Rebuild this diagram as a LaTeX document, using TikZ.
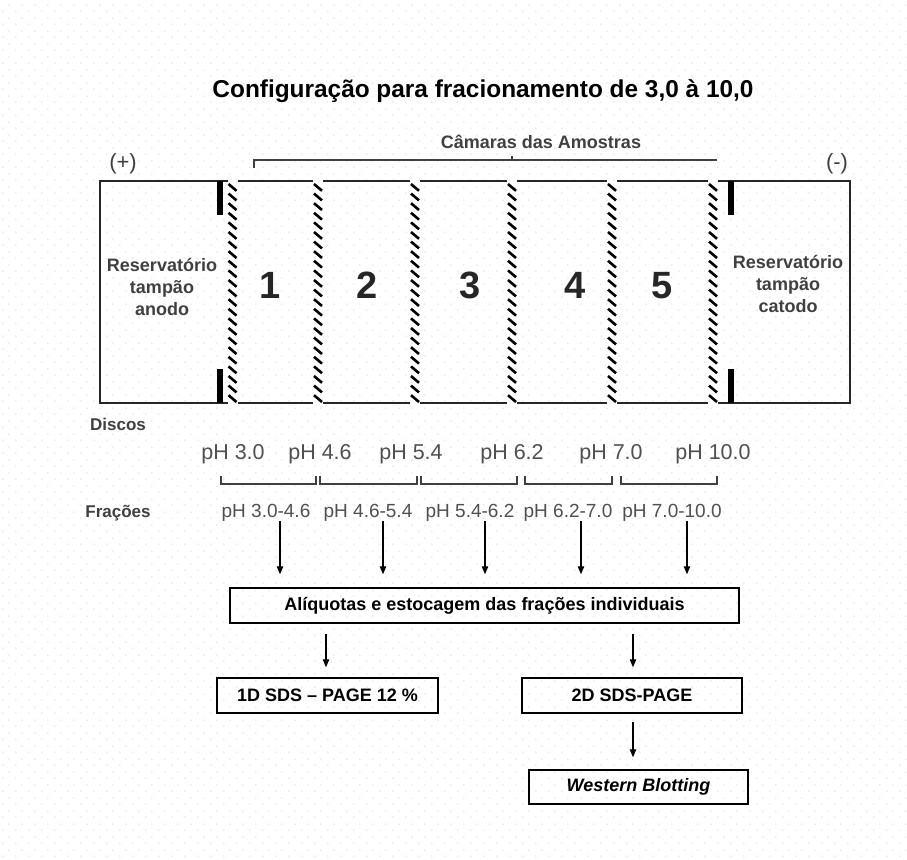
\documentclass[tikz,border=0pt]{standalone}
\usepackage{fontspec}
\setmainfont{Liberation Sans}
\usetikzlibrary{arrows.meta,patterns}

\pgfdeclarepatternformonly{bgdots}{\pgfpointorigin}{\pgfpoint{12.5pt}{12.5pt}}{\pgfpoint{12.5pt}{12.5pt}}{%
  \pgfpathcircle{\pgfpoint{3pt}{3pt}}{0.65pt}%
  \pgfpathcircle{\pgfpoint{9.25pt}{9.25pt}}{0.65pt}%
  \pgfusepath{fill}}

\definecolor{ink}{HTML}{262626}
\definecolor{soft}{HTML}{404040}
\definecolor{phgray}{HTML}{505050}
\newcommand{\setfsz}[1]{\fontsize{#1}{#1}\selectfont}

\tikzset{
  titletext/.style={font=\bfseries\setfsz{24.4}, text=black, inner sep=0pt},
  restext/.style={font=\bfseries\fontsize{18}{22}\selectfont, text=soft, align=center, inner sep=0pt},
  numtext/.style={font=\bfseries\setfsz{38}, text=ink, inner sep=0pt},
  camtext/.style={font=\bfseries\setfsz{18}, text=soft, inner sep=0pt},
  signtext/.style={font=\setfsz{22}, text=soft, inner sep=0pt},
  sidetext/.style={font=\bfseries\setfsz{17}, text=soft, inner sep=0pt},
  phtext/.style={font=\setfsz{21.5}, text=phgray, inner sep=0pt},
  fractext/.style={font=\setfsz{19}, text=phgray, inner sep=0pt},
  boxline/.style={draw=ink, line width=1.4pt},
  hatch/.style={draw=black, line width=2.6pt},
  thickbar/.style={fill=black},
  bracketline/.style={draw=soft, line width=1.3pt},
  flowbox/.style={draw=black, line width=1.5pt, font=\bfseries\setfsz{18}, text=black, inner sep=0pt, minimum height=35pt},
  flowarrow/.style={draw=black, line width=1.1pt, -{Triangle[width=6.5pt,length=8pt]}}
}

\begin{document}
\begin{tikzpicture}[x=1pt,y=-1pt]
\useasboundingbox (0,0) rectangle (907,859);
\fill[white] (0,0) rectangle (907,859);
\fill[pattern=bgdots, pattern color=black!22] (0,0) rectangle (907,859);

% title
\node[titletext, anchor=base] (title) at (483,97) {Configuração para fracionamento de 3,0 à 10,0};

% polarity signs
\node[signtext, anchor=base] (plus) at (123,169) {(+)};
\node[signtext, anchor=base] (minus) at (837,169) {(-)};

% chambers label and bracket
\node[camtext, anchor=base] (cam) at (541,148) {Câmaras das Amostras};
\draw[bracketline] (254,168) -- (254,160) -- (717,160);
\draw[bracketline] (512,160) -- (512,156);

% apparatus outline (gaps at the membranes)
\draw[boxline] (227.5,181) -- (100,181) -- (100,403) -- (227.5,403);
\foreach \a/\b in {237.5/313, 323/410, 420/507, 517/607, 617/708} {
  \draw[boxline] (\a,181) -- (\b,181);
  \draw[boxline] (\a,403) -- (\b,403);
}
\draw[boxline] (718,181) -- (850,181) -- (850,403) -- (718,403);

% thick electrode bars
\fill[thickbar] (217,181) rectangle (222.5,215);
\fill[thickbar] (217,369) rectangle (222.5,403);
\fill[thickbar] (727.5,181) rectangle (733.5,215);
\fill[thickbar] (727.5,369) rectangle (733.5,403);

% hatched membranes (discs)
\foreach \cx in {232.5,318,415,512,612,713} {
  \foreach \yy in {184,193.6,...,396} {
    \draw[hatch] (\cx-4,\yy) -- (\cx+4,\yy+6.8);
  }
}

% reservoir labels
\node[restext] (anode) at (162,287) {Reservatório\\tampão\\anodo};
\node[restext] (catode) at (788,284) {Reservatório\\tampão\\catodo};

% chamber numbers
\node[numtext, anchor=base] (n1) at (270,298) {1};
\node[numtext, anchor=base] (n2) at (367,298) {2};
\node[numtext, anchor=base] (n3) at (470,298) {3};
\node[numtext, anchor=base] (n4) at (575,298) {4};
\node[numtext, anchor=base] (n5) at (662,298) {5};

% discs
\node[sidetext, anchor=base] (discos) at (118,430) {Discos};
\node[phtext, anchor=base] (p1) at (233,459) {pH 3.0};
\node[phtext, anchor=base] (p2) at (320,459) {pH 4.6};
\node[phtext, anchor=base] (p3) at (411,459) {pH 5.4};
\node[phtext, anchor=base] (p4) at (512,459) {pH 6.2};
\node[phtext, anchor=base] (p5) at (611,459) {pH 7.0};
\node[phtext, anchor=base] (p6) at (713,459) {pH 10.0};

% fraction brackets
\foreach \a/\b in {221/316, 320/417, 421/517, 525/612, 621/717} {
  \draw[bracketline] (\a,476) -- (\a,484) -- (\b,484) -- (\b,476);
}

% fractions
\node[sidetext, anchor=base] (fracoes) at (118,517) {Frações};
\node[fractext, anchor=base] (f1) at (266,517) {pH 3.0-4.6};
\node[fractext, anchor=base] (f2) at (368,517) {pH 4.6-5.4};
\node[fractext, anchor=base] (f3) at (470,517) {pH 5.4-6.2};
\node[fractext, anchor=base] (f4) at (568,517) {pH 6.2-7.0};
\node[fractext, anchor=base] (f5) at (672,517) {pH 7.0-10.0};

% flow boxes
\node[flowbox, minimum width=509pt] (ali) at (484.5,605.5) {Alíquotas e estocagem das frações individuais};
\node[flowbox, minimum width=221pt] (d1) at (327.5,695.5) {1D SDS -- PAGE 12 \%};
\node[flowbox, minimum width=220pt] (d2) at (632,695.5) {2D SDS-PAGE};
\node[flowbox, minimum width=219pt, minimum height=34pt, font=\bfseries\itshape\setfsz{18}] (wb) at (638.5,787) {Western Blotting};

% arrows from fractions
\coordinate (s1) at (280,521);
\coordinate (s2) at (383,521);
\coordinate (s3) at (485,521);
\coordinate (s4) at (581,521);
\coordinate (s5) at (687,521);
\foreach \s in {s1,s2,s3,s4,s5} {
  \draw[flowarrow, shorten >=13pt] (\s) -- (\s |- ali.north);
}

% lower arrows
\coordinate (t1) at (326,623);
\coordinate (t2) at (633,623);
\draw[flowarrow, shorten <=11pt, shorten >=10pt] (t1) -- (t1 |- d1.north);
\draw[flowarrow, shorten <=11pt, shorten >=10pt] (t2) -- (t2 |- d2.north);
\coordinate (t3) at (633,713);
\draw[flowarrow, shorten <=9pt, shorten >=12pt] (t3) -- (t3 |- wb.north);
\end{tikzpicture}
\end{document}
